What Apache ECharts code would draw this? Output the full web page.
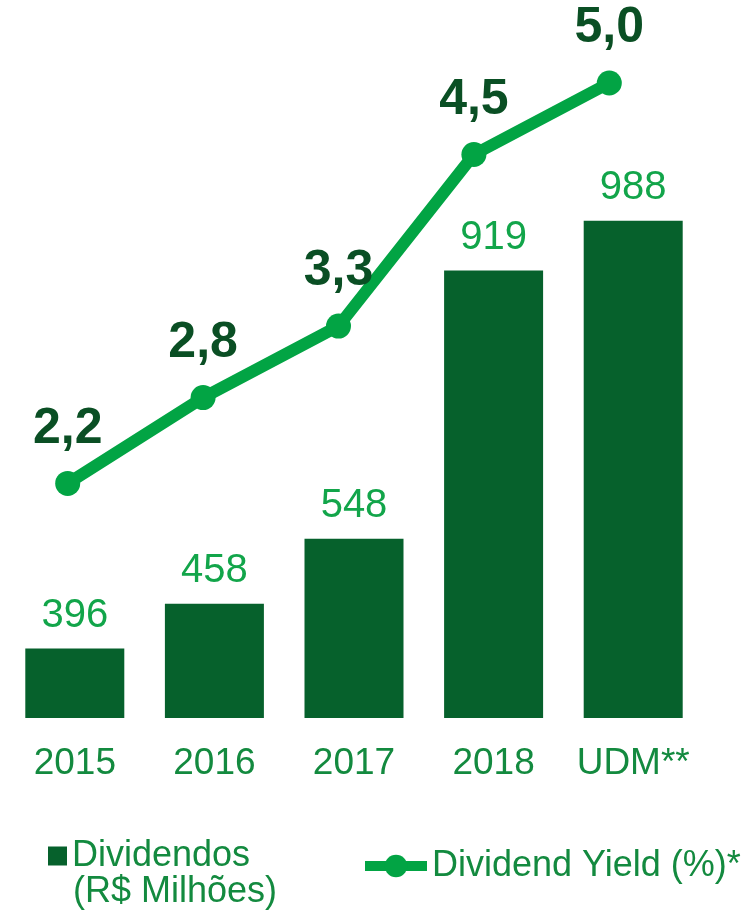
<!DOCTYPE html>
<html><head><meta charset="utf-8">
<script src="https://cdn.jsdelivr.net/npm/echarts@6/dist/echarts.min.js"></script>
<style>html,body{margin:0;padding:0;background:#fff}#c{width:743px;height:915px}</style>
</head><body><div id="c"></div>
<script>
const categories = ['2015','2016','2017','2018','UDM**'];
const dividendos = [396, 458, 548, 919, 988];
const dividendYield = [2.2, 2.8, 3.3, 4.5, 5.0];
const yieldLabels = ['2,2','2,8','3,3','4,5','5,0'];

const barColor = '#06612C';
const lineColor = '#02A444';
const textGreen = '#138A3F';
const chart = echarts.init(document.getElementById('c'));
chart.setOption({
  animation: false,
  grid: [
    {left: 5, right: 40, top: 212, bottom: 197},
    {left: -2, right: 66, top: 83, bottom: 403}
  ],
  xAxis: [
    {type: 'category', data: categories, gridIndex: 0,
     axisLine: {show: false}, axisTick: {show: false},
     axisLabel: {interval: 0, color: textGreen, fontSize: 37, fontFamily: 'Liberation Sans, Arial', margin: 27}},
    {type: 'category', data: categories, gridIndex: 1, show: false}
  ],
  yAxis: [
    {type: 'value', gridIndex: 0, min: 300, max: 1000, show: false, splitLine: {show: false}},
    {type: 'value', gridIndex: 1, min: 2, max: 5, show: false, splitLine: {show: false}}
  ],
  legend: [
    {data: ['Dividendos'], left: 43, top: 833, icon: 'rect', itemWidth: 19, itemHeight: 19,
     textStyle: {color: textGreen, fontSize: 36, fontFamily: 'Liberation Sans, Arial'}},
    {data: ['Dividend Yield (%)*'], left: 355, top: 843, itemWidth: 62, itemHeight: 28,
     lineStyle: {width: 10},
     textStyle: {color: textGreen, fontSize: 36, fontFamily: 'Liberation Sans, Arial'}}
  ],
  graphic: [
    {type: 'text', left: 73, top: 874,
     style: {text: '(R$ Milhões)', fill: textGreen, fontSize: 36, fontFamily: 'Liberation Sans, Arial'}}
  ],
  series: [
    {name: 'Dividendos', type: 'bar', xAxisIndex: 0, yAxisIndex: 0, data: dividendos,
     barWidth: 99, itemStyle: {color: barColor},
     label: {show: true, position: 'top', distance: 13, color: '#12A54A', fontSize: 40, fontFamily: 'Liberation Sans, Arial'}},
    {name: 'Dividend Yield (%)*', type: 'line', xAxisIndex: 1, yAxisIndex: 1, data: dividendYield,
     clip: false, symbol: 'circle', symbolSize: 25,
     lineStyle: {color: lineColor, width: 12}, itemStyle: {color: lineColor},
     label: {show: true, position: 'top', distance: 17, color: '#0A4F24', fontSize: 50, fontWeight: 'bold',
       fontFamily: 'Liberation Sans, Arial', formatter: p => yieldLabels[p.dataIndex]}}
  ]
});
</script></body></html>
